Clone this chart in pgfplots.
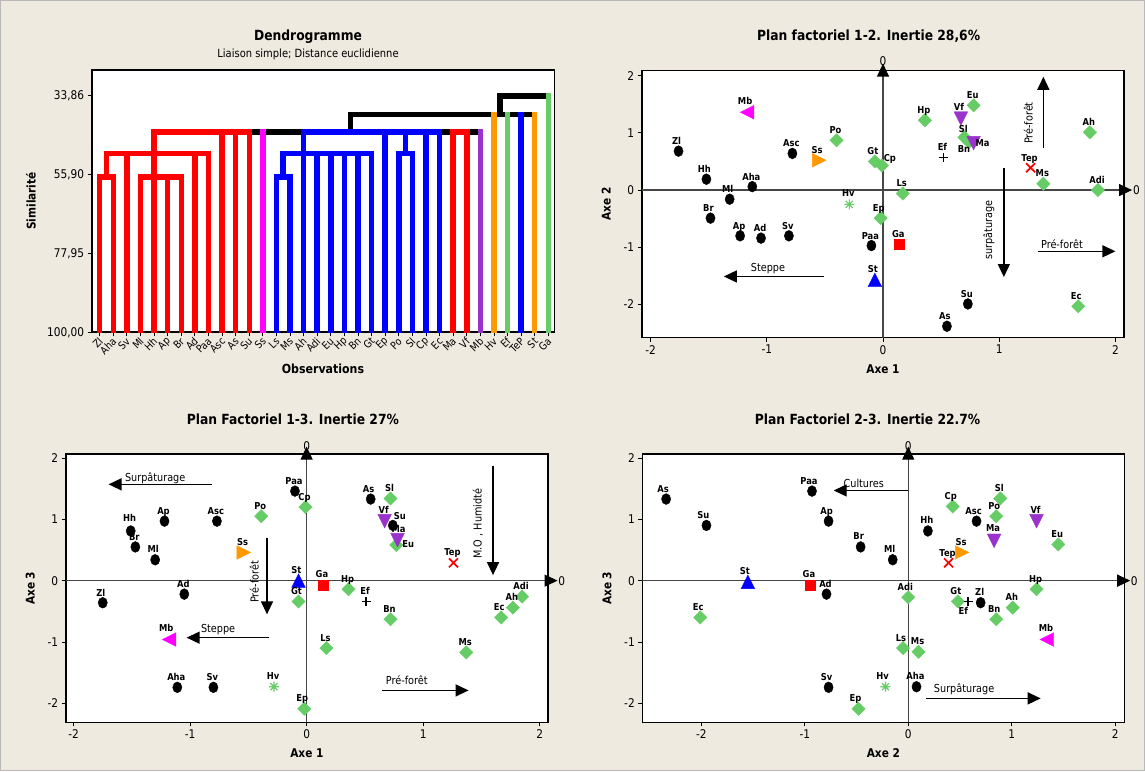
\documentclass[border=0pt]{standalone}
\usepackage{fontspec}
\setmainfont{DejaVu Sans}[FakeStretch=0.88]
\usepackage{pgfplots}
\pgfplotsset{compat=1.18}
\usepackage{pgfplotstable}
\usetikzlibrary{arrows.meta}

\definecolor{bg}{RGB}{238,234,224}
\definecolor{mgreen}{RGB}{102,204,102}
\definecolor{morange}{RGB}{255,153,0}
\definecolor{mpurple}{RGB}{153,51,204}
\definecolor{mmagenta}{RGB}{255,0,255}
\definecolor{mblue}{RGB}{0,0,255}
\definecolor{mred}{RGB}{255,0,0}
\definecolor{zgray}{RGB}{70,70,70}

\newcommand{\fs}[1]{\fontsize{#1}{#1}\selectfont}

% custom marks
\pgfdeclareplotmark{ell}{\pgfpathellipse{\pgfpointorigin}{\pgfqpoint{\pgfplotmarksize}{0pt}}{\pgfqpoint{0pt}{1.18\pgfplotmarksize}}\pgfusepathqfillstroke}
\pgfdeclareplotmark{diam}{%
 \pgfpathmoveto{\pgfqpoint{0pt}{1.414\pgfplotmarksize}}%
 \pgfpathlineto{\pgfqpoint{1.414\pgfplotmarksize}{0pt}}%
 \pgfpathlineto{\pgfqpoint{0pt}{-1.414\pgfplotmarksize}}%
 \pgfpathlineto{\pgfqpoint{-1.414\pgfplotmarksize}{0pt}}%
 \pgfpathclose\pgfusepathqfillstroke}
\pgfdeclareplotmark{tup}{%
 \pgfpathmoveto{\pgfqpoint{0pt}{\pgfplotmarksize}}%
 \pgfpathlineto{\pgfqpoint{\pgfplotmarksize}{-\pgfplotmarksize}}%
 \pgfpathlineto{\pgfqpoint{-\pgfplotmarksize}{-\pgfplotmarksize}}%
 \pgfpathclose\pgfusepathqfillstroke}
\pgfdeclareplotmark{tdn}{%
 \pgfpathmoveto{\pgfqpoint{0pt}{-\pgfplotmarksize}}%
 \pgfpathlineto{\pgfqpoint{\pgfplotmarksize}{\pgfplotmarksize}}%
 \pgfpathlineto{\pgfqpoint{-\pgfplotmarksize}{\pgfplotmarksize}}%
 \pgfpathclose\pgfusepathqfillstroke}
\pgfdeclareplotmark{tlf}{%
 \pgfpathmoveto{\pgfqpoint{-\pgfplotmarksize}{0pt}}%
 \pgfpathlineto{\pgfqpoint{\pgfplotmarksize}{\pgfplotmarksize}}%
 \pgfpathlineto{\pgfqpoint{\pgfplotmarksize}{-\pgfplotmarksize}}%
 \pgfpathclose\pgfusepathqfillstroke}
\pgfdeclareplotmark{trt}{%
 \pgfpathmoveto{\pgfqpoint{\pgfplotmarksize}{0pt}}%
 \pgfpathlineto{\pgfqpoint{-\pgfplotmarksize}{\pgfplotmarksize}}%
 \pgfpathlineto{\pgfqpoint{-\pgfplotmarksize}{-\pgfplotmarksize}}%
 \pgfpathclose\pgfusepathqfillstroke}
\pgfdeclareplotmark{xx}{\pgfsetlinewidth{1.7pt}%
 \pgfpathmoveto{\pgfqpoint{-\pgfplotmarksize}{-\pgfplotmarksize}}\pgfpathlineto{\pgfqpoint{\pgfplotmarksize}{\pgfplotmarksize}}%
 \pgfpathmoveto{\pgfqpoint{-\pgfplotmarksize}{\pgfplotmarksize}}\pgfpathlineto{\pgfqpoint{\pgfplotmarksize}{-\pgfplotmarksize}}%
 \pgfusepathqstroke}
\pgfdeclareplotmark{star8}{\pgfsetlinewidth{1.1pt}%
 \pgfpathmoveto{\pgfqpoint{0pt}{-\pgfplotmarksize}}\pgfpathlineto{\pgfqpoint{0pt}{\pgfplotmarksize}}%
 \pgfpathmoveto{\pgfqpoint{-\pgfplotmarksize}{0pt}}\pgfpathlineto{\pgfqpoint{\pgfplotmarksize}{0pt}}%
 \pgfpathmoveto{\pgfqpoint{-0.7\pgfplotmarksize}{-0.7\pgfplotmarksize}}\pgfpathlineto{\pgfqpoint{0.7\pgfplotmarksize}{0.7\pgfplotmarksize}}%
 \pgfpathmoveto{\pgfqpoint{-0.7\pgfplotmarksize}{0.7\pgfplotmarksize}}\pgfpathlineto{\pgfqpoint{0.7\pgfplotmarksize}{-0.7\pgfplotmarksize}}%
 \pgfusepathqstroke}
\pgfdeclareplotmark{pls}{\pgfsetlinewidth{1.6pt}%
 \pgfpathmoveto{\pgfqpoint{0pt}{-\pgfplotmarksize}}\pgfpathlineto{\pgfqpoint{0pt}{\pgfplotmarksize}}%
 \pgfpathmoveto{\pgfqpoint{-\pgfplotmarksize}{0pt}}\pgfpathlineto{\pgfqpoint{\pgfplotmarksize}{0pt}}%
 \pgfusepathqstroke}

% Plan factoriel 1-2 (Axe 1, Axe 2); dx, dy = label offset in px
\pgfplotstableread{
x y c lbl dx dy
-1.17 1.36 mg Mb -2 8
-1.76 0.68 bk Zl -2 6.5
-0.78 0.64 bk Asc -1 6.5
-0.40 0.87 gd Po -1 7
-0.55 0.52 or Ss -2 7
-1.52 0.19 bk Hh -2 6.5
-1.125 0.06 bk Aha -1 6.5
-1.32 -0.16 bk Ml -2 6.5
-0.29 -0.25 ha Hv -1 7.5
-0.07 0.50 gd Gt -2 7
-0.01 0.43 gd Cp 8 4
0.17 -0.06 gd Ls -1 7
-0.02 -0.49 gd Ep -2 7
0.36 1.22 gd Hp -1 7
0.78 1.48 gd Eu -1 7
0.67 1.25 pu Vf -2 8
0.70 0.92 gd Sl -1 5
0.74 0.84 gd Bn -5 -11
0.78 0.82 pu Ma 9 -3
0.52 0.57 ef Ef -1 7
1.27 0.39 rx Tep -1 6
1.38 0.11 gd Ms -1 7
1.78 1.01 gd Ah -1 7
1.85 0.00 gd Adi -1 7
-1.485 -0.49 bk Br -2 6.5
-1.23 -0.80 bk Ap -1 6.5
-1.05 -0.84 bk Ad -1 6.5
-0.81 -0.80 bk Sv -1 6.5
-0.10 -0.97 bk Paa -1 6.5
0.14 -0.95 rs Ga -1 7
-0.07 -1.57 bt St -2 7
0.73 -1.99 bk Su -1 6.5
0.55 -2.38 bk As -2 6.5
1.68 -2.03 gd Ec -2 7
}\tabB

% Plan factoriel 1-3 (Axe 1, Axe 3)
\pgfplotstableread{
x y c lbl dx dy
-0.10 1.46 bk Paa -1 6.5
-0.01 1.20 gd Cp -1 7
0.55 1.33 bk As -2 7
0.72 1.34 gd Sl -1 7
-1.51 0.81 bk Hh -1 9
-1.22 0.97 bk Ap -1 7
-0.77 0.97 bk Asc -1 7
-0.39 1.05 gd Po -1 7
-1.47 0.55 bk Br -1 6.5
-1.30 0.34 bk Ml -2 7
-0.54 0.46 or Ss -1 7
1.26 0.29 rx Tep -1 7
0.67 0.97 pu Vf -1 8
0.74 0.90 bk Su 7 5.5
0.77 0.58 gd Eu 12 -2
0.78 0.66 pu Ma 1 8
-0.07 0.00 bt St -2 7
0.14 -0.07 rs Ga -1 7
0.36 -0.14 gd Hp -1 7
-1.75 -0.36 bk Zl -2 6.5
-1.05 -0.22 bk Ad -1 6.5
-0.07 -0.34 gd Gt -2 7
0.51 -0.34 ef Ef -1 7
1.85 -0.26 gd Adi -1 7
1.77 -0.44 gd Ah -1 7
1.67 -0.60 gd Ec -2 7
0.72 -0.63 gd Bn -1 7
-1.18 -0.96 mg Mb -3 8
0.17 -1.10 gd Ls -1 7
1.37 -1.17 gd Ms -1 7
-1.11 -1.74 bk Aha -1 6.5
-0.80 -1.74 bk Sv -1 6.5
-0.28 -1.73 ha Hv -1 7.5
-0.02 -2.09 gd Ep -2 7
}\tabC

% Plan factoriel 2-3 (Axe 2, Axe 3)
\pgfplotstableread{
x y c lbl dx dy
-2.34 1.33 bk As -3 7
-1.95 0.90 bk Su -3 7
-0.93 1.46 bk Paa -3 7
-0.77 0.97 bk Ap -2 7
-0.46 0.55 bk Br -2 7
-0.15 0.34 bk Ml -3 7
0.19 0.81 bk Hh -1 7
0.43 1.21 gd Cp -2 7
0.66 0.97 bk Asc -3 7
0.89 1.34 gd Sl -1 7
0.85 1.05 gd Po -2 7
1.24 0.97 pu Vf -1 8
0.83 0.65 pu Ma -1 9
1.45 0.59 gd Eu -1 7
0.52 0.46 or Ss -1 7
0.39 0.29 rx Tep -1 6.5
-1.55 -0.02 bt St -3 7
-0.95 -0.07 rs Ga -1 7
1.24 -0.14 gd Hp -1 7
-0.79 -0.22 bk Ad -1 7
0.00 -0.27 gd Adi -3 7
0.48 -0.34 gd Gt -2 7
0.58 -0.34 ef Ef -5 -13
0.70 -0.36 bk Zl -1 7
1.01 -0.44 gd Ah -1 7
0.85 -0.63 gd Bn -2 7
-2.01 -0.60 gd Ec -2 7
1.34 -0.96 mg Mb -1 8
-0.05 -1.10 gd Ls -2 7
0.10 -1.16 gd Ms -1 7
-0.77 -1.74 bk Sv -2 7
-0.22 -1.73 ha Hv -3 7.5
0.08 -1.73 bk Aha -1 7
-0.48 -2.09 gd Ep -3 7
}\tabD

\pgfplotsset{
 fp/.style={
  scale only axis, clip=false, anchor=south west,
  axis background/.style={fill=white},
  axis line style={line width=1.6pt, black},
  tick align=outside, major tick length=4pt,
  xtick pos=left, ytick pos=left,
  every tick/.style={black, line width=0.9pt},
  xtick={-2,-1,0,1,2}, xticklabels={-2,-1,0,1,2},
  ytick={-2,-1,0,1,2}, yticklabels={-2,-1,0,1,2},
  tick label style={font=\fs{12}},
  every axis x label/.style={at={([yshift=-35.5pt]axis description cs:0.5,0)}, anchor=base, font=\bfseries\fs{12}},
  every axis y label/.style={at={([xshift=-31pt]axis description cs:0,0.5)}, anchor=base, rotate=90, font=\bfseries\fs{12}},
 },
 zl/.style={draw=zgray, line width=1.2pt, mark=none, -{Triangle[length=13pt,width=12pt,color=black]}},
 ann/.style={draw=black, line width=1.4pt, mark=none, -{Triangle[length=13pt,width=12pt,color=black]}},
 mk/.style={
  scatter, only marks, scatter src=explicit symbolic,
  scatter/classes={
   bk={mark=ell, black, mark size=4.6pt},
   gd={mark=diam, mgreen, mark size=4.7pt},
   pu={mark=tdn, mpurple, mark size=6.8pt},
   mg={mark=tlf, mmagenta, mark size=6.8pt},
   or={mark=trt, morange, mark size=6.8pt},
   rs={mark=square*, mred, mark size=5pt},
   bt={mark=tup, mblue, mark size=6.8pt},
   rx={mark=xx, mred, mark size=4.5pt},
   ha={mark=star8, mgreen, mark size=5pt},
   ef={mark=pls, black, mark size=4.5pt}
  },
 },
 lb/.style={
  only marks, mark=*, mark size=0pt, mark options={draw=none, fill=none},
  point meta=explicit symbolic, nodes near coords,
  every node near coord/.append style={anchor=base, font=\bfseries\fs{9.5}, text=black, inner sep=0pt},
 },
 dg/.style={line width=5.5pt, line cap=rect, mark=none, unbounded coords=jump},
}

\begin{document}
\begin{tikzpicture}
\useasboundingbox (0,0) rectangle (1145pt,771pt);
\fill[bg] (0,0) rectangle (1145pt,771pt);
\draw[gray!55, line width=1pt] (0.5pt,0.5pt) rectangle (1144.5pt,770.5pt);

% ---------------- Dendrogram ----------------
\begin{axis}[
  at={(91.7pt,438.7pt)}, anchor=south west, scale only axis,
  width=462.6pt, height=262.3pt,
  xmin=0.41, xmax=34.44, ymin=26.6, ymax=100, y dir=reverse,
  axis background/.style={fill=white},
  axis line style={line width=1.6pt, black},
  tick align=outside, major tick length=4pt,
  xtick pos=left, ytick pos=left,
  every tick/.style={black, line width=0.9pt},
  xtick={1,2,...,34},
  xticklabels={Zl,Aha,Sv,Ml,Hh,Ap,Br,Ad,Paa,Asc,As,Su,Ss,Ls,Ms,Ah,Adi,Eu,Hp,Bn,Gt,Ep,Po,Sl,Cp,Ec,Ma,Vf,Mb,Hv,Ef,TeP,St,Ga},
  xticklabel style={yshift=-2.5pt, xshift=2pt, rotate=45, anchor=east, font=\fs{10.5}, inner sep=1pt},
  ytick={33.86,55.90,77.95,100},
  yticklabels={{33,86},{55,90},{77,95},{100,00}},
  yticklabel style={font=\fs{12}},
]
% black links
\addplot[dg, black] coordinates {(12,43.98)(29,43.98) (1,nan) (19.44,43.98)(19.44,39.1) (1,nan) (19.44,39.1)(33,39.1) (1,nan) (30.46,39.1)(30.46,33.86) (1,nan) (30.46,33.86)(34,33.86)};
% red
\addplot[dg, mred] coordinates {
 (1,100)(1,56.5) (1,nan) (2,100)(2,56.5) (1,nan) (1,56.5)(2,56.5) (1,nan) (1.5,56.5)(1.5,50.0) (1,nan)
 (3,100)(3,50.0) (1,nan) (4,100)(4,56.5) (1,nan) (5,100)(5,43.98) (1,nan) (6,100)(6,56.5) (1,nan) (7,100)(7,56.5) (1,nan)
 (4,56.5)(7,56.5) (1,nan) (8,100)(8,50.0) (1,nan) (9,100)(9,50.0) (1,nan) (1.5,50.0)(9,50.0) (1,nan)
 (10,100)(10,43.98) (1,nan) (11,100)(11,43.98) (1,nan) (12,100)(12,43.98) (1,nan) (5,43.98)(12,43.98) (1,nan)
 (27,100)(27,43.98) (1,nan) (28,100)(28,43.98) (1,nan) (27,43.98)(28,43.98)};
% magenta
\addplot[dg, mmagenta] coordinates {(13,100)(13,43.98)};
% blue
\addplot[dg, mblue] coordinates {
 (14,100)(14,56.5) (1,nan) (15,100)(15,56.5) (1,nan) (14,56.5)(15,56.5) (1,nan) (14.5,56.5)(14.5,50.0) (1,nan)
 (16,100)(16,43.98) (1,nan) (17,100)(17,50.0) (1,nan) (18,100)(18,50.0) (1,nan) (19,100)(19,50.0) (1,nan)
 (20,100)(20,50.0) (1,nan) (21,100)(21,50.0) (1,nan) (14.5,50.0)(21,50.0) (1,nan)
 (22,100)(22,43.98) (1,nan) (23,100)(23,50.0) (1,nan) (24,100)(24,50.0) (1,nan) (23,50.0)(24,50.0) (1,nan)
 (23.5,50.0)(23.5,43.98) (1,nan) (25,100)(25,43.98) (1,nan) (26,100)(26,43.98) (1,nan) (16,43.98)(26,43.98) (1,nan)
 (32,100)(32,39.1)};
% purple
\addplot[dg, mpurple] coordinates {(29,100)(29,43.98)};
% orange
\addplot[dg, morange] coordinates {(30,100)(30,39.1) (1,nan) (33,100)(33,39.1)};
% green
\addplot[dg, mgreen] coordinates {(31,100)(31,39.1) (1,nan) (34,100)(34,33.86)};
\end{axis}
\node[anchor=base, font=\bfseries\fs{14}] at (308pt,730pt) {Dendrogramme};
\node[anchor=base, font=\fs{11.3}] at (308pt,713.7pt) {Liaison simple; Distance euclidienne};
\node[anchor=base, font=\bfseries\fs{12.5}] at (323pt,397.7pt) {Observations};
\node[anchor=base, rotate=90, font=\bfseries\fs{12}] at (35.7pt,570pt) {Similarité};

% ---------------- Plan factoriel 1-2 ----------------
\begin{axis}[fp, at={(641.7pt,433.3pt)}, width=482.4pt, height=267pt,
  xmin=-2.077, xmax=2.075, ymin=-2.58, ymax=2.086, xlabel={Axe 1}, ylabel={Axe 2}]
 \addplot[zl] coordinates {(0,-2.58) (0,2.21)};
 \addplot[zl] coordinates {(-2.077,0) (2.143,0)};
 \node[font=\fs{12}] at (axis cs:0,2.25) {0};
 \node[font=\fs{12}, anchor=west, inner sep=0pt] at (axis cs:2.15,0) {0};
 \addplot[ann] coordinates {(1.38,0.73) (1.38,1.98)};
 \node[rotate=90, font=\fs{11}] at (axis cs:1.25,1.17) {Pré-forêt};
 \addplot[ann] coordinates {(1.04,0.39) (1.04,-1.52)};
 \node[rotate=90, font=\fs{11}] at (axis cs:0.91,-0.70) {surpâturage};
 \addplot[ann] coordinates {(1.33,-1.07) (2.0,-1.07)};
 \node[font=\fs{11}] at (axis cs:1.54,-0.94) {Pré-forêt};
 \addplot[ann] coordinates {(-0.51,-1.51) (-1.37,-1.51)};
 \node[font=\fs{11}] at (axis cs:-0.99,-1.38) {Steppe};
 \addplot[mk] table[x=x, y=y, meta=c] {\tabB};
 \addplot[lb] table[x expr=\thisrow{x}+\thisrow{dx}/116.2, y expr=\thisrow{y}+\thisrow{dy}/57.2, meta=lbl] {\tabB};
\end{axis}
\node[anchor=base, font=\bfseries\fs{14}] at (868.6pt,730pt) {Plan factoriel 1-2. Inertie 28,6\%};

% ---------------- Plan factoriel 1-3 ----------------
\begin{axis}[fp, at={(65.7pt,48.7pt)}, width=482.3pt, height=268pt,
  xmin=-2.068, xmax=2.072, ymin=-2.31, ymax=2.06, xlabel={Axe 1}, ylabel={Axe 3}]
 \addplot[zl] coordinates {(0,-2.31) (0,2.185)};
 \addplot[zl] coordinates {(-2.068,0) (2.154,0)};
 \node[font=\fs{12}] at (axis cs:0,2.2) {0};
 \node[font=\fs{12}, anchor=west, inner sep=0pt] at (axis cs:2.16,0) {0};
 \addplot[ann] coordinates {(-0.81,1.57) (-1.70,1.57)};
 \node[font=\fs{11}] at (axis cs:-1.30,1.67) {Surpâturage};
 \addplot[ann] coordinates {(1.60,1.87) (1.60,0.09)};
 \node[rotate=90, font=\fs{11}] at (axis cs:1.47,0.93) {M.O , Humidté};
 \addplot[ann] coordinates {(-0.34,0.70) (-0.34,-0.55)};
 \node[rotate=90, font=\fs{11}] at (axis cs:-0.45,-0.02) {Pré-forêt};
 \addplot[ann] coordinates {(-0.32,-0.93) (-1.03,-0.93)};
 \node[font=\fs{11}] at (axis cs:-0.76,-0.80) {Steppe};
 \addplot[ann] coordinates {(0.65,-1.79) (1.39,-1.79)};
 \node[font=\fs{11}] at (axis cs:0.86,-1.62) {Pré-forêt};
 \addplot[mk] table[x=x, y=y, meta=c] {\tabC};
 \addplot[lb] table[x expr=\thisrow{x}+\thisrow{dx}/116.5, y expr=\thisrow{y}+\thisrow{dy}/61.3, meta=lbl] {\tabC};
\end{axis}
\node[anchor=base, font=\bfseries\fs{14}] at (292.9pt,346pt) {Plan Factoriel 1-3. Inertie 27\%};

% ---------------- Plan factoriel 2-3 ----------------
\begin{axis}[fp, at={(642.3pt,48.7pt)}, width=482.2pt, height=268pt,
  xmin=-2.57, xmax=2.09, ymin=-2.31, ymax=2.06, xlabel={Axe 2}, ylabel={Axe 3}]
 \addplot[zl] coordinates {(0,-2.31) (0,2.185)};
 \addplot[zl] coordinates {(-2.57,0) (2.145,0)};
 \node[font=\fs{12}] at (axis cs:0,2.2) {0};
 \node[font=\fs{12}, anchor=west, inner sep=0pt] at (axis cs:2.15,0) {0};
 \addplot[ann] coordinates {(0,1.47) (-0.72,1.47)};
 \node[font=\fs{11}] at (axis cs:-0.43,1.58) {Cultures};
 \addplot[ann] coordinates {(0.17,-1.92) (1.28,-1.92)};
 \node[font=\fs{11}] at (axis cs:0.54,-1.77) {Surpâturage};
 \addplot[mk] table[x=x, y=y, meta=c] {\tabD};
 \addplot[lb] table[x expr=\thisrow{x}+\thisrow{dx}/103.4, y expr=\thisrow{y}+\thisrow{dy}/61.3, meta=lbl] {\tabD};
\end{axis}
\node[anchor=base, font=\bfseries\fs{14}] at (867.6pt,346pt) {Plan Factoriel 2-3. Inertie 22.7\%};
\end{tikzpicture}
\end{document}
